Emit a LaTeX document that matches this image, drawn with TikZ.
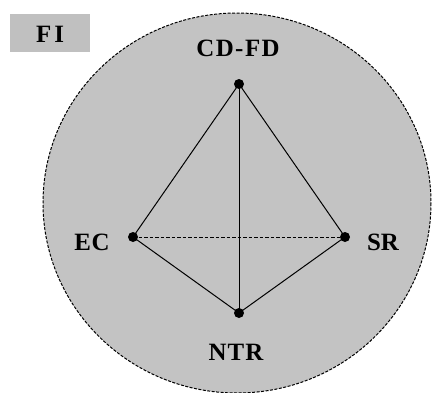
\documentclass[tikz,border=0pt]{standalone}
\usepackage{fontspec}
\setmainfont{Liberation Serif}
\begin{document}
\begin{tikzpicture}[x=1bp,y=-1bp,
  lbl/.style={font=\fontsize{25}{28}\selectfont\bfseries, inner sep=0pt},
  vdot/.style={circle, fill=black, minimum size=10bp, inner sep=0pt},
  edge/.style={line width=1bp},
  hid/.style={line width=1bp, dash pattern=on 3.5bp off 2bp}]
\useasboundingbox (0,0) rectangle (432,393);
\begin{scope}
\clip (0,0) rectangle (432,393);
\draw[fill={rgb,255:red,195;green,195;blue,195}, line width=1bp, dash pattern=on 3bp off 1.5bp] (237,203) ellipse [x radius=194, y radius=190];
\end{scope}
\node[fill={rgb,255:red,192;green,192;blue,192}, minimum width=80bp, minimum height=38bp, inner sep=0pt] (fibox) at (50,33) {};
\node[lbl] (fi) at (50,34) {F\kern3pt I};
\node[vdot] (cd) at (239,84) {};
\node[vdot] (ec) at (133,237) {};
\node[vdot] (sr) at (345,237) {};
\node[vdot] (ntr) at (239,313) {};
\node[lbl] (cdl) at (238,48) {C\kern1.5pt D\kern1.5pt -\kern1.5pt F\kern1.5pt D};
\node[lbl] (ecl) at (92,242) {E\kern0.5pt C};
\node[lbl] (srl) at (383,242) {SR};
\node[lbl] (ntrl) at (236,352) {N\kern1pt T\kern1pt R};
\draw[edge] (cd.center) -- (ec.center);
\draw[edge] (cd.center) -- (sr.center);
\draw[edge] (cd.center) -- (ntr.center);
\draw[edge] (ec.center) -- (ntr.center);
\draw[edge] (sr.center) -- (ntr.center);
\draw[hid] (ec.center) -- (sr.center);
\end{tikzpicture}
\end{document}
